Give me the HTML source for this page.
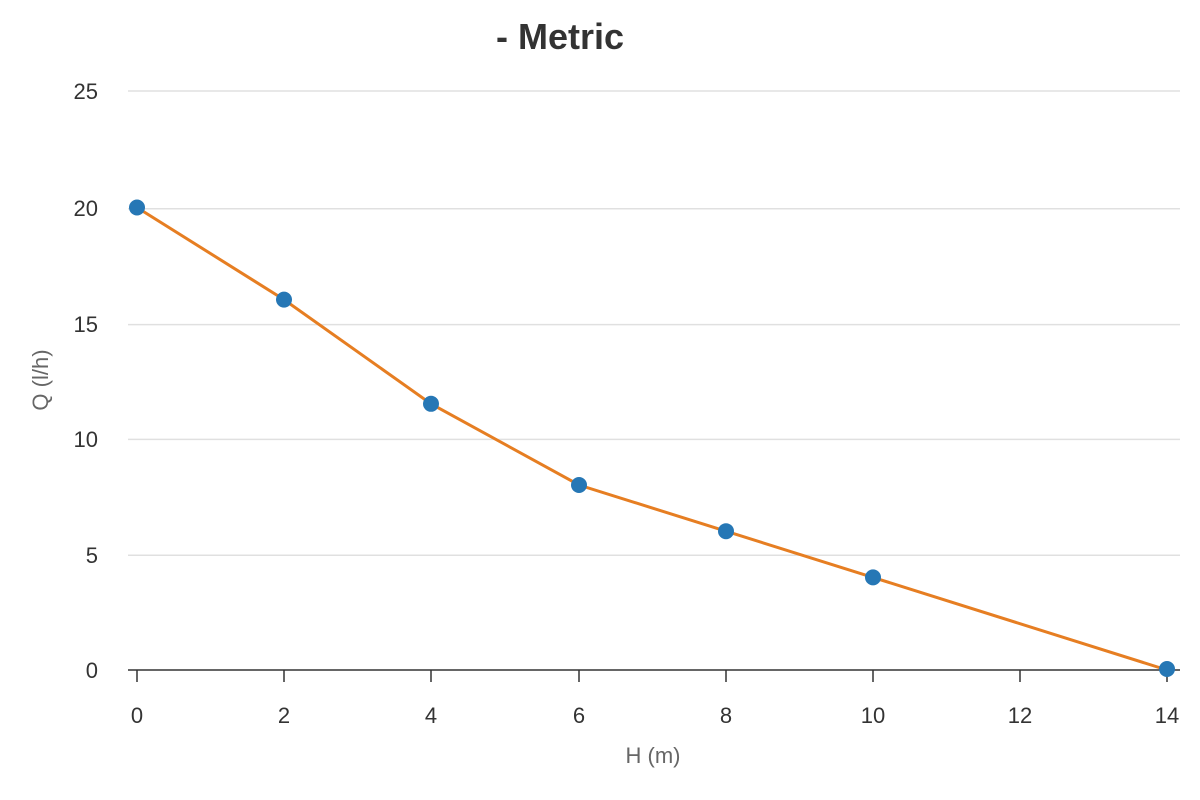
<!DOCTYPE html>
<html><head><meta charset="utf-8"><style>
html,body{margin:0;padding:0;background:#fff;}
svg{display:block;font-family:"Liberation Sans",Arial,sans-serif;}
</style></head><body>
<svg width="1200" height="800" viewBox="0 0 1200 800">
<text x="560" y="49" text-anchor="middle" font-size="36" font-weight="bold" fill="#333">- Metric</text>
<g stroke="#e0e0e0" stroke-width="1.5">
<line x1="128" y1="91" x2="1180" y2="91"/>
<line x1="128" y1="208.8" x2="1180" y2="208.8"/>
<line x1="128" y1="324.6" x2="1180" y2="324.6"/>
<line x1="128" y1="439.4" x2="1180" y2="439.4"/>
<line x1="128" y1="555.2" x2="1180" y2="555.2"/>
</g>
<line x1="128" y1="670" x2="1180" y2="670" stroke="#333" stroke-width="1.5"/>
<g stroke="#333" stroke-width="1.5">
<line x1="137" y1="670" x2="137" y2="682"/>
<line x1="284" y1="670" x2="284" y2="682"/>
<line x1="431" y1="670" x2="431" y2="682"/>
<line x1="579" y1="670" x2="579" y2="682"/>
<line x1="726" y1="670" x2="726" y2="682"/>
<line x1="873" y1="670" x2="873" y2="682"/>
<line x1="1020" y1="670" x2="1020" y2="682"/>
<line x1="1167" y1="670" x2="1167" y2="682"/>
</g>
<g font-size="22" fill="#333" text-anchor="end">
<text x="98" y="99">25</text>
<text x="98" y="216">20</text>
<text x="98" y="332">15</text>
<text x="98" y="447">10</text>
<text x="98" y="563">5</text>
<text x="98" y="678">0</text>
</g>
<g font-size="22" fill="#333" text-anchor="middle">
<text x="137" y="723">0</text>
<text x="284" y="723">2</text>
<text x="431" y="723">4</text>
<text x="579" y="723">6</text>
<text x="726" y="723">8</text>
<text x="873" y="723">10</text>
<text x="1020" y="723">12</text>
<text x="1167" y="723">14</text>
</g>
<text x="653" y="763" font-size="22" fill="#666" text-anchor="middle">H (m)</text>
<text transform="translate(48,380) rotate(-90)" font-size="22" fill="#666" text-anchor="middle">Q (l/h)</text>
<polyline points="137,207.5 284,299.6 431,403.8 579,485 726,531.2 873,577.4 1167,670" fill="none" stroke="#e67e22" stroke-width="3"/>
<g fill="#2677b5">
<circle cx="137" cy="207.5" r="8"/>
<circle cx="284" cy="299.6" r="8"/>
<circle cx="431" cy="403.8" r="8"/>
<circle cx="579" cy="485" r="8"/>
<circle cx="726" cy="531.2" r="8"/>
<circle cx="873" cy="577.4" r="8"/>
<circle cx="1167" cy="669" r="8"/>
</g>
</svg>
</body></html>
